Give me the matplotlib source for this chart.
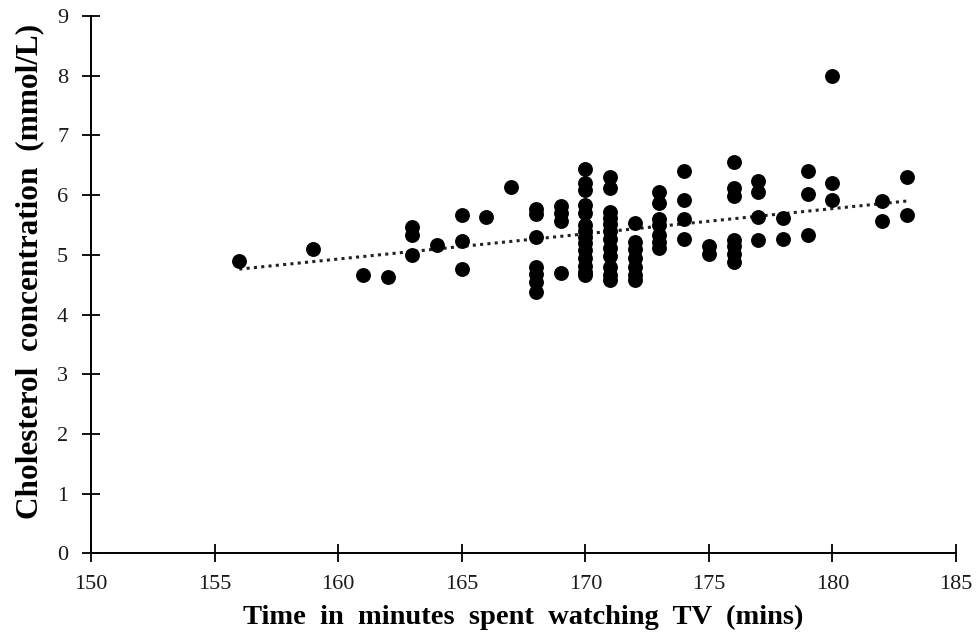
import numpy as np
import matplotlib
matplotlib.use("Agg")
import matplotlib.pyplot as plt

# Minutes of TV per day and cholesterol concentration for each participant
minutes = [
    156, 159, 161, 162,
    163, 163, 163, 164,
    165, 165, 165, 166, 167,
    168, 168, 168, 168, 168, 168, 168,
    169, 169, 169, 169,
    170, 170, 170, 170, 170, 170, 170, 170, 170, 170, 170, 170, 170, 170,
    171, 171, 171, 171, 171, 171, 171, 171, 171, 171, 171, 171,
    172, 172, 172, 172, 172, 172, 172,
    173, 173, 173, 173, 173, 173, 173,
    174, 174, 174, 174,
    175, 175,
    176, 176, 176, 176, 176, 176, 176,
    177, 177, 177, 177,
    178, 178,
    179, 179, 179,
    180, 180, 180,
    182, 182,
    183, 183,
]
cholesterol = [
    4.90, 5.10, 4.66, 4.63,
    5.47, 5.33, 5.00, 5.16,
    5.67, 5.23, 4.76, 5.64, 6.14,
    5.77, 5.68, 5.29, 4.80, 4.68, 4.55, 4.37,
    5.81, 5.70, 5.56, 4.69,
    6.43, 6.20, 6.08, 5.84, 5.70, 5.50, 5.40, 5.30, 5.20, 5.08, 4.95, 4.82, 4.72, 4.66,
    6.30, 6.12, 5.72, 5.62, 5.52, 5.40, 5.26, 5.12, 4.98, 4.80, 4.66, 4.57,
    5.53, 5.22, 5.10, 4.95, 4.80, 4.66, 4.57,
    6.05, 5.87, 5.60, 5.50, 5.33, 5.22, 5.11,
    6.41, 5.91, 5.60, 5.27,
    5.14, 5.02,
    6.55, 6.12, 5.98, 5.24, 5.14, 5.02, 4.88,
    6.23, 6.06, 5.64, 5.25,
    5.61, 5.27,
    6.41, 6.01, 5.33,
    8.00, 6.20, 5.91,
    5.90, 5.57,
    6.31, 5.67,
]

# Linear trend line, end points over the observed range
trend_minutes = [156, 183]
trend_cholesterol = [4.76, 5.90]

x_ticks = [150, 155, 160, 165, 170, 175, 180, 185]
y_ticks = [0, 1, 2, 3, 4, 5, 6, 7, 8, 9]

plt.rcParams["font.family"] = ["Liberation Serif", "DejaVu Serif"]

fig = plt.figure(figsize=(9.77, 6.44), dpi=100)
ax = fig.add_axes([0.0932, 0.1408, 0.8853, 0.8344])

ax.scatter(minutes, cholesterol, s=115, color="black", zorder=3, linewidths=0)
ax.plot(trend_minutes, trend_cholesterol, color="#222222", linewidth=2.2,
        linestyle=(0, (1, 1.4)), zorder=2)

ax.set_xlim(150, 185)
ax.set_ylim(0, 9)
ax.set_xticks(x_ticks)
ax.set_yticks(y_ticks)
ax.tick_params(direction="inout", length=13, width=1.3, labelsize=16,
               colors="black", labelcolor="#1a1a1a")
ax.tick_params(axis="y", pad=10)
ax.tick_params(axis="x", pad=9)
for side in ("top", "right"):
    ax.spines[side].set_visible(False)
for side in ("left", "bottom"):
    ax.spines[side].set_linewidth(1.4)

ax.set_xlabel("Time  in  minutes  spent  watching  TV  (mins)",
              fontsize=20.5, fontweight="bold", labelpad=8)
ax.set_ylabel("Cholesterol  concentration  (mmol/L)",
              fontsize=22.5, fontweight="bold")
ax.yaxis.set_label_coords(-0.054, 0.5245)

fig.savefig("out.png", dpi=100)
